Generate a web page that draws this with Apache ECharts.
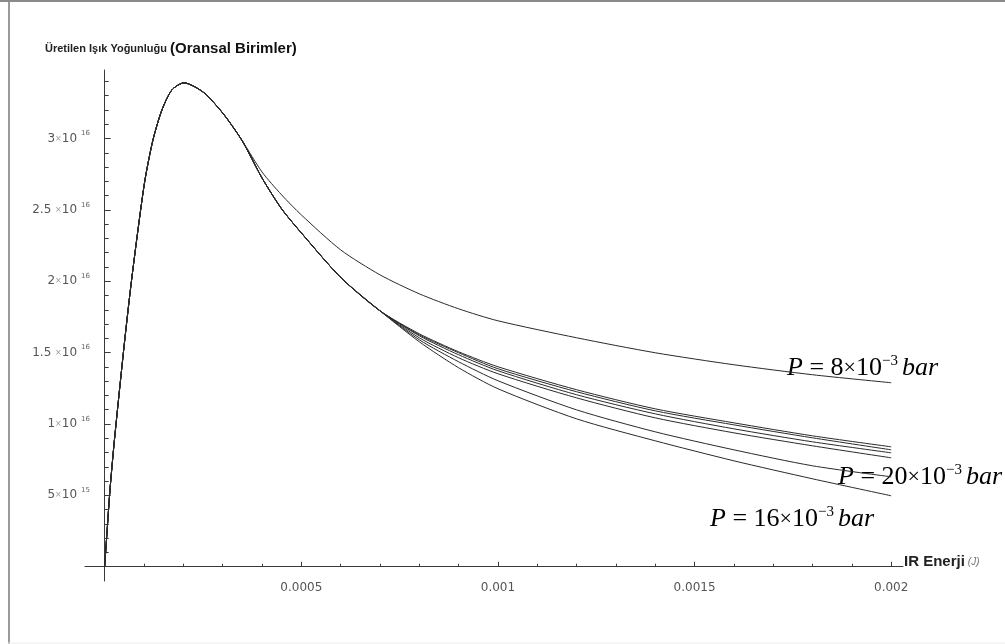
<!DOCTYPE html>
<html><head><meta charset="utf-8">
<script src="https://cdn.jsdelivr.net/npm/echarts@6/dist/echarts.min.js"></script>
<style>html,body{margin:0;padding:0;background:#fff}#c{width:1005px;height:644px}</style>
</head><body><div id="c"></div>
<script>
// ---- data (x in J, y in units of 1e16) ----
const riseX = [0, 0.0000058, 0.0000135, 0.0000236, 0.0000364, 0.0000516, 0.0000669, 0.0000847, 0.0001025, 0.0001228, 0.0001457, 0.0001711, 0.0002016];
const riseY16 = [0, 0.236, 0.538, 0.853, 1.203, 1.603, 1.974, 2.360, 2.710, 2.990, 3.201, 3.341, 3.390];
const descentX = [0.00025, 0.0003, 0.00035];
const descentY16 = [3.326, 3.179, 2.983];
const p8X = [0.0004, 0.00045, 0.0005, 0.0006, 0.0007, 0.0008, 0.0009, 0.001, 0.0012, 0.0014, 0.0016, 0.0018, 0.002];
const p8Y16 = [2.766, 2.605, 2.465, 2.220, 2.045, 1.912, 1.807, 1.723, 1.604, 1.499, 1.415, 1.345, 1.289];
const commonX = [0.0004, 0.00045, 0.0005, 0.0006, 0.0007];
const commonY16 = [2.724, 2.507, 2.339, 2.027, 1.793];
const tailX = [0.0008, 0.0009, 0.001, 0.0012, 0.0014, 0.0016, 0.0018, 0.002];
const tailP10 = [1.632, 1.506, 1.401, 1.240, 1.106, 1.008, 0.917, 0.840];
const tailP12 = [1.625, 1.499, 1.387, 1.226, 1.092, 0.994, 0.903, 0.819];
const tailP14 = [1.618, 1.485, 1.373, 1.205, 1.071, 0.966, 0.875, 0.798];
const tailP18 = [1.604, 1.464, 1.352, 1.183, 1.043, 0.938, 0.847, 0.763];
const tailP20 = [1.590, 1.436, 1.303, 1.099, 0.945, 0.819, 0.707, 0.630];
const tailP16 = [1.576, 1.394, 1.247, 1.036, 0.882, 0.742, 0.616, 0.497];

const xMajorTicks = [0.0005, 0.001, 0.0015, 0.002];
const xTickLabels = ['0.0005', '0.001', '0.0015', '0.002'];
const yMajorTicks = [5e15, 1e16, 1.5e16, 2e16, 2.5e16, 3e16];
const yMantissas = ['5', '1', '1.5 ', '2', '2.5 ', '3'];
const yExponents = ['15', '16', '16', '16', '16', '16'];

// ---- build ----
function pairs(xs, ys16) { return xs.map((x, i) => [x, ys16[i] * 1e16]); }
const head = pairs(riseX, riseY16).concat(pairs(descentX, descentY16));
const lowerHead = head.concat(pairs(commonX, commonY16));
const seriesDefs = [
  { name: 'P = 8×10⁻³ bar', data: head.concat(pairs(p8X, p8Y16)) },
  { name: 'P = 10×10⁻³ bar', data: lowerHead.concat(pairs(tailX, tailP10)) },
  { name: 'P = 12×10⁻³ bar', data: lowerHead.concat(pairs(tailX, tailP12)) },
  { name: 'P = 14×10⁻³ bar', data: lowerHead.concat(pairs(tailX, tailP14)) },
  { name: 'P = 18×10⁻³ bar', data: lowerHead.concat(pairs(tailX, tailP18)) },
  { name: 'P = 20×10⁻³ bar', data: lowerHead.concat(pairs(tailX, tailP20)) },
  { name: 'P = 16×10⁻³ bar', data: lowerHead.concat(pairs(tailX, tailP16)) }
];

const xMinor = [], yMinor = [];
for (let i = 1; i <= 19; i++) if (i % 5) xMinor.push(+(i * 0.0001).toFixed(5));
for (let i = 1; i <= 34; i++) if (i % 5) yMinor.push(i * 1e15);

const axisColor = '#3a3a3a';
const X_MIN = -0.00005, X_MAX = 0.00203, Y_MIN = -1e15, Y_MAX = 3.48e16;

function annRich() {
  return {
    p: { fontFamily: 'Liberation Serif', fontSize: 26, fontStyle: 'italic', color: '#1a1a1a' },
    o: { fontFamily: 'Liberation Serif', fontSize: 26, color: '#1a1a1a' },
    x: { fontFamily: 'Liberation Serif', fontSize: 22, color: '#777' },
    s: { fontFamily: 'Liberation Serif', fontSize: 15, color: '#1a1a1a', padding: [0, 4, 13, 0] },
    b: { fontFamily: 'Liberation Serif', fontSize: 26, fontStyle: 'italic', color: '#1a1a1a' }
  };
}

const chart = echarts.init(document.getElementById('c'), null, { renderer: 'canvas' });
const tickFont = 'DejaVu Sans';
chart.setOption({
  animation: false,
  backgroundColor: '#ffffff',
  title: {
    left: 45, top: 40, padding: 0,
    text: '{n|Üretilen Işık Yoğunluğu }{b|(Oransal Birimler)}',
    textStyle: {
      rich: {
        n: { fontFamily: 'Liberation Sans', fontSize: 11, color: '#222', lineHeight: 18 },
        b: { fontFamily: 'Liberation Sans', fontSize: 15, fontWeight: 'bold', color: '#111', lineHeight: 18 }
      }
    }
  },
  grid: { left: 85, right: 102, top: 70, bottom: 63, containLabel: false },
  xAxis: [
    {
      type: 'value', min: X_MIN, max: X_MAX, position: 'bottom',
      axisLine: { onZero: true, onZeroAxisIndex: 0, lineStyle: { color: axisColor, width: 1 } },
      axisTick: { inside: true, length: 5, customValues: xMajorTicks, lineStyle: { color: axisColor } },
      axisLabel: {
        customValues: xMajorTicks, margin: 1,
        formatter: v => { const i = xMajorTicks.findIndex(t => Math.abs(t - v) < 1e-9); return i >= 0 ? xTickLabels[i] : ''; },
        fontFamily: tickFont, fontSize: 12, color: '#555'
      },
      splitLine: { show: false },
      name: '{a|IR Enerji}{j|(J)}', nameLocation: 'end', nameGap: 1,
      nameTextStyle: {
        padding: [0, 0, 10, 0],
        rich: {
          a: { fontFamily: 'Liberation Sans', fontSize: 15, fontWeight: 'bold', color: '#222' },
          j: { fontFamily: 'Liberation Sans', fontSize: 10, fontStyle: 'italic', color: '#777', padding: [0, 0, 0, 3] }
        }
      }
    },
    {
      type: 'value', min: X_MIN, max: X_MAX, position: 'bottom',
      axisLine: { show: false, onZero: true, onZeroAxisIndex: 0 },
      axisTick: { inside: true, length: 3, customValues: xMinor, lineStyle: { color: axisColor } },
      axisLabel: { show: false },
      splitLine: { show: false }
    }
  ],
  yAxis: [
    {
      type: 'value', min: Y_MIN, max: Y_MAX, position: 'left',
      axisLine: { onZero: true, onZeroAxisIndex: 0, lineStyle: { color: axisColor, width: 1 } },
      axisTick: { inside: true, length: 6, customValues: yMajorTicks, lineStyle: { color: axisColor } },
      axisLabel: {
        customValues: yMajorTicks, margin: -5,
        formatter: v => {
          const i = yMajorTicks.findIndex(t => Math.abs(t - v) < 1e10);
          if (i < 0) return '';
          return '{m|' + yMantissas[i] + '}{x|×}{m|10}{e|' + yExponents[i] + '}';
        },
        rich: {
          m: { fontFamily: tickFont, fontSize: 12, color: '#555' },
          x: { fontFamily: tickFont, fontSize: 8, color: '#999' },
          e: { fontFamily: tickFont, fontSize: 7, color: '#666', padding: [0, 0, 10, 4] }
        }
      },
      splitLine: { show: false }
    },
    {
      type: 'value', min: Y_MIN, max: Y_MAX, position: 'left',
      axisLine: { show: false, onZero: true, onZeroAxisIndex: 0 },
      axisTick: { inside: true, length: 4, customValues: yMinor, lineStyle: { color: axisColor } },
      axisLabel: { show: false },
      splitLine: { show: false }
    }
  ],
  series: seriesDefs.map(s => ({
    name: s.name, type: 'line', xAxisIndex: 0, yAxisIndex: 0,
    data: s.data, showSymbol: false, smooth: 0.25,
    lineStyle: { color: '#2a2a2a', width: 1 }, silent: true
  })),
  graphic: [
    { type: 'line', shape: { x1: 9, y1: 0, x2: 9, y2: 644 }, style: { stroke: '#9a9a9a', lineWidth: 2 } },
    { type: 'line', shape: { x1: 0, y1: 1, x2: 1005, y2: 1 }, style: { stroke: '#8a8a8a', lineWidth: 2 } },
    { type: 'line', shape: { x1: 8, y1: 643, x2: 1005, y2: 643 }, style: { stroke: '#ececec', lineWidth: 1 } },
    { type: 'text', x: 787, y: 368, style: {
      text: '{p|P}{o| = 8}{x|×}{o|10}{s|−3}{b|bar}', verticalAlign: 'middle', rich: annRich() } },
    { type: 'text', x: 838, y: 477, style: {
      text: '{p|P}{o| = 20}{x|×}{o|10}{s|−3}{b|bar}', verticalAlign: 'middle', rich: annRich() } },
    { type: 'text', x: 710, y: 519, style: {
      text: '{p|P}{o| = 16}{x|×}{o|10}{s|−3}{b|bar}', verticalAlign: 'middle', rich: annRich() } }
  ]
});
</script>
</body></html>
